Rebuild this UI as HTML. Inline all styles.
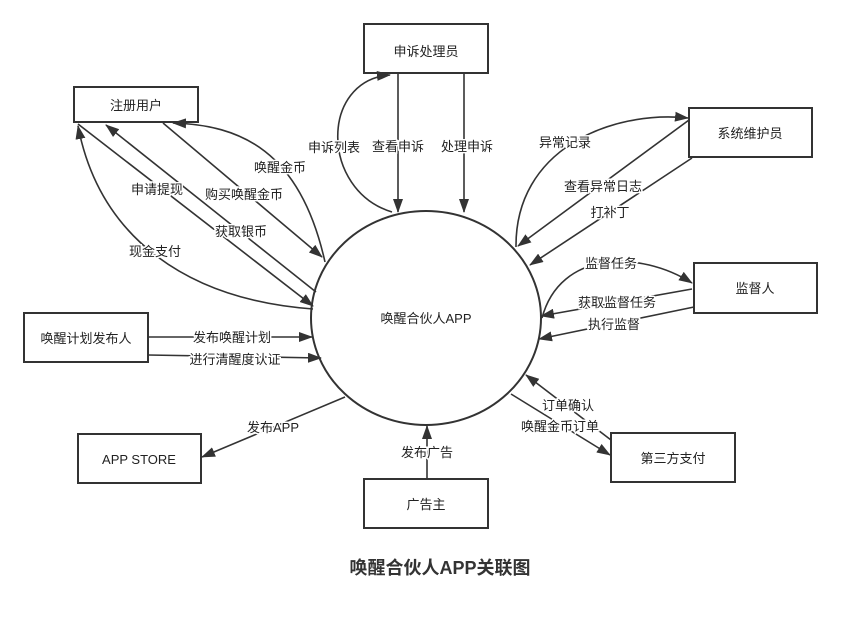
<!DOCTYPE html>
<html><head><meta charset="utf-8"><style>
body{margin:0;background:#fff;}
svg text{font-family:"Liberation Sans","Noto Sans CJK SC",sans-serif;font-size:13px;fill:#222;}
</style></head><body>
<svg width="842" height="612" viewBox="0 0 842 612" xmlns="http://www.w3.org/2000/svg">
<defs><marker id="a" markerWidth="10" markerHeight="8" refX="9" refY="4" orient="auto" markerUnits="userSpaceOnUse"><path d="M0,0 L10,4 L0,8 Z" fill="#333"/></marker>
<marker id="b" viewBox="0 0 14 10" markerWidth="14" markerHeight="10" refX="13" refY="5" orient="auto" markerUnits="userSpaceOnUse"><path d="M0,0 L14,5 L0,10 Z" fill="#333"/></marker></defs>
<g fill="none" stroke="#333" stroke-width="2">
<ellipse cx="426" cy="318" rx="115" ry="107"/>
<rect x="364" y="24" width="124" height="49"/>
<rect x="74" y="87" width="124" height="35"/>
<rect x="689" y="108" width="123" height="49"/>
<rect x="694" y="263" width="123" height="50"/>
<rect x="24" y="313" width="124" height="49"/>
<rect x="78" y="434" width="123" height="49"/>
<rect x="364" y="479" width="124" height="49"/>
<rect x="611" y="433" width="124" height="49"/>
</g>
<g fill="none" stroke="#333" stroke-width="1.6" marker-end="url(#b)">
<path d="M392,212 C320,190 320,80 390,75"/>
<path d="M398,74 L398,212"/>
<path d="M464,74 L464,212"/>
<path d="M325,262 C300,150 240,125 173,123"/>
<path d="M163,123 L322,257"/>
<path d="M316,292 L106,125"/>
<path d="M78,124 L313,306"/>
<path d="M313,309 C190,300 100,240 78,126"/>
<path d="M148,337 L312,337"/>
<path d="M148,355 L321,358"/>
<path d="M345,397 L202,457"/>
<path d="M427,479 L427,426"/>
<path d="M611,440 L526,375"/>
<path d="M511,394 L610,455"/>
<path d="M516,247 C515,150 610,110 688,118"/>
<path d="M689,120 L518,246"/>
<path d="M692,158 L530,265"/>
<path d="M542,318 C560,250 640,250 692,283"/>
<path d="M692,289 L541,316"/>
<path d="M694,307 L539,339"/>
</g>
<g text-anchor="middle" font-size="13" paint-order="stroke" stroke="#fff" stroke-width="3">
<text x="426" y="56">申诉处理员</text>
<text x="136" y="110">注册用户</text>
<text x="750" y="138">系统维护员</text>
<text x="755" y="293">监督人</text>
<text x="86" y="343">唤醒计划发布人</text>
<text x="139" y="464">APP STORE</text>
<text x="426" y="509">广告主</text>
<text x="673" y="463">第三方支付</text>
<text x="426" y="323">唤醒合伙人APP</text>
<text x="334" y="152">申诉列表</text>
<text x="398" y="151">查看申诉</text>
<text x="467" y="151">处理申诉</text>
<text x="280" y="172">唤醒金币</text>
<text x="244" y="199">购买唤醒金币</text>
<text x="157" y="194">申请提现</text>
<text x="241" y="236">获取银币</text>
<text x="155" y="256">现金支付</text>
<text x="232" y="342">发布唤醒计划</text>
<text x="235" y="364">进行清醒度认证</text>
<text x="273" y="432">发布APP</text>
<text x="427" y="457">发布广告</text>
<text x="568" y="410">订单确认</text>
<text x="560" y="431">唤醒金币订单</text>
<text x="565" y="147">异常记录</text>
<text x="603" y="191">查看异常日志</text>
<text x="610" y="217">打补丁</text>
<text x="611" y="268">监督任务</text>
<text x="617" y="307">获取监督任务</text>
<text x="614" y="329">执行监督</text>
</g>
<text x="440" y="574" text-anchor="middle" style="font-size:18px;font-weight:bold;fill:#333">唤醒合伙人APP关联图</text>
</svg>
</body></html>
